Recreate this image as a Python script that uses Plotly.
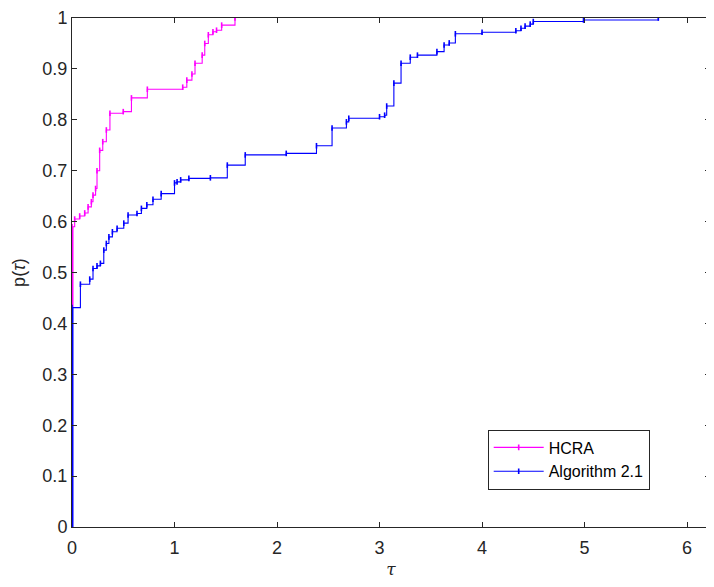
import plotly.graph_objects as go

# HCRA performance profile breakpoints
hcra_tau = [0, 0, 0.026, 0.075, 0.124, 0.157, 0.189, 0.205, 0.23, 0.244, 0.27, 0.30,
            0.335, 0.37, 0.50, 0.58, 0.735, 1.08, 1.12, 1.17, 1.20, 1.27, 1.295,
            1.33, 1.375, 1.41, 1.46, 1.59]
hcra_p = [0, 0.59, 0.605, 0.611, 0.617, 0.629, 0.639, 0.652, 0.665, 0.70, 0.74, 0.757,
          0.78, 0.813, 0.816, 0.843, 0.86, 0.864, 0.878, 0.89, 0.911, 0.927, 0.95,
          0.967, 0.973, 0.976, 0.986, 1.0]

# Algorithm 2.1 performance profile breakpoints
alg_tau = [0, 0, 0.082, 0.173, 0.205, 0.244, 0.277, 0.31, 0.335, 0.36, 0.394, 0.44,
           0.505, 0.547, 0.634, 0.677, 0.73, 0.79, 0.87, 1.0, 1.025, 1.06, 1.14, 1.35,
           1.515, 1.69, 2.09, 2.385, 2.537, 2.677, 2.70, 3.0, 3.05, 3.07, 3.14, 3.21,
           3.30, 3.37, 3.56, 3.63, 3.68, 3.74, 4.0, 4.33, 4.38, 4.42, 4.47, 4.5, 4.99, 5.72]
alg_p = [0, 0.431, 0.477, 0.487, 0.508, 0.513, 0.518, 0.544, 0.557, 0.570, 0.580, 0.587,
         0.597, 0.613, 0.616, 0.626, 0.633, 0.644, 0.655, 0.676, 0.678, 0.682, 0.685, 0.686,
         0.711, 0.731, 0.734, 0.749, 0.784, 0.796, 0.803, 0.806, 0.809, 0.827, 0.872, 0.911,
         0.923, 0.927, 0.934, 0.947, 0.951, 0.969, 0.972, 0.975, 0.98, 0.984, 0.988, 0.993,
         0.996, 1.0]

x_ticks = [0, 1, 2, 3, 4, 5, 6]
y_ticks = [0, 0.1, 0.2, 0.3, 0.4, 0.5, 0.6, 0.7, 0.8, 0.9, 1]

MAGENTA = "#ff00ff"
BLUE = "#0000ff"

fig = go.Figure()

# thick vertical parts at tau = 0 (dense markers in original)
fig.add_trace(go.Scatter(x=hcra_tau[:2], y=[alg_p[1], hcra_p[1]], mode="lines",
                         line=dict(color=MAGENTA, width=3), showlegend=False, hoverinfo="skip"))

fig.add_trace(go.Scatter(x=hcra_tau, y=hcra_p, mode="lines+markers", name="HCRA",
                         line=dict(color=MAGENTA, width=1.1, shape="hv"),
                         marker=dict(color=MAGENTA, size=4, symbol="line-ns",
                                     line=dict(color=MAGENTA, width=1.6))))

fig.add_trace(go.Scatter(x=alg_tau[:2], y=alg_p[:2], mode="lines",
                         line=dict(color=BLUE, width=3), showlegend=False, hoverinfo="skip"))

fig.add_trace(go.Scatter(x=alg_tau, y=alg_p, mode="lines+markers", name="Algorithm 2.1",
                         line=dict(color=BLUE, width=1.1, shape="hv"),
                         marker=dict(color=BLUE, size=4, symbol="line-ns",
                                     line=dict(color=BLUE, width=1.6))))

axis_color = "#262626"
FONT = "Liberation Sans, Arial, sans-serif"
tick_font = dict(family=FONT, size=18, color=axis_color)

# page body adds an 8px offset; plot area spans x 72..710, y 18..527 in the window
fig.update_layout(
    width=706, height=579,
    margin=dict(l=64, r=4, t=10, b=60),
    paper_bgcolor="white", plot_bgcolor="white",
    font=tick_font,
    showlegend=True,
    legend=dict(x=(487.7 - 72) / 638, y=(527 - 429.5) / 509, xanchor="left", yanchor="top",
                bgcolor="white", bordercolor=axis_color, borderwidth=1,
                font=dict(family=FONT, size=16, color="#000000"),
                itemwidth=50, tracegroupgap=0),
    xaxis=dict(range=[0, 6.224], tickvals=x_ticks, ticktext=[str(t) for t in x_ticks],
               showline=True, linecolor=axis_color, linewidth=1, mirror="ticks",
               ticks="inside", ticklen=5, tickcolor=axis_color, showgrid=False, zeroline=False,
               automargin=False, tickfont=tick_font, ticklabelstandoff=4,
               title=dict(text="<i>τ</i>", standoff=6,
                          font=dict(family="DejaVu Serif, serif", size=17, color=axis_color))),
    yaxis=dict(range=[0, 1], tickvals=y_ticks, ticktext=[f"{t:g}" for t in y_ticks],
               showline=True, linecolor=axis_color, linewidth=1, mirror="ticks",
               ticks="inside", ticklen=5, tickcolor=axis_color, showgrid=False, zeroline=False,
               automargin=False, tickfont=tick_font,
               title=dict(text="p(<i>τ</i>)", standoff=12,
                          font=dict(family=FONT, size=18, color=axis_color))),
)

fig.write_html("out.html")
